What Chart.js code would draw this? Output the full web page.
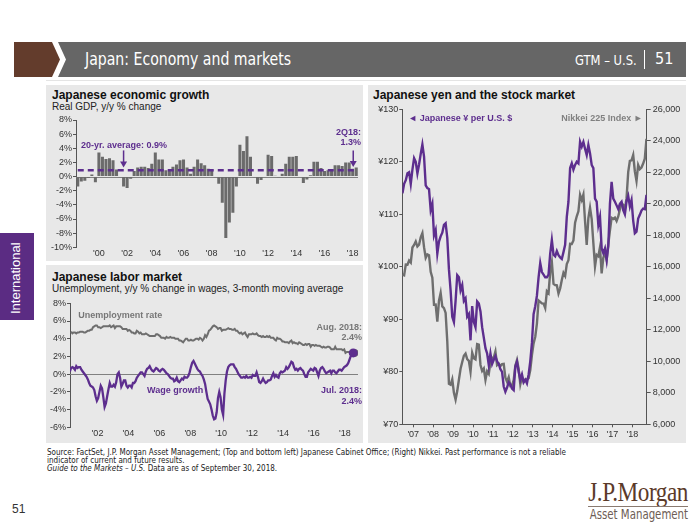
<!DOCTYPE html>
<html><head><meta charset="utf-8">
<script src="https://cdn.jsdelivr.net/npm/chart.js@4.4.1/dist/chart.umd.min.js"></script>
<style>
body{margin:0;width:700px;height:525px;position:relative;background:#fff;font-family:"Liberation Sans",Arial,sans-serif;overflow:hidden}
.abs{position:absolute;white-space:nowrap}
.panel{position:absolute;background:#e8e8e8}
.ttl{position:absolute;font-weight:bold;font-size:12px;color:#111;white-space:nowrap;line-height:14px}
.sub{position:absolute;font-size:10px;color:#222;white-space:nowrap;line-height:12px}
.narrow{font-family:"Liberation Sans Narrow","DejaVu Sans Condensed","Liberation Sans",sans-serif}
canvas{position:absolute}
.foot{position:absolute;left:47px;font-size:8px;line-height:8px;color:#222;white-space:nowrap}
</style></head><body>

<!-- header -->
<div class="abs" style="left:14px;top:42px;width:46px;height:35px;background:#633c2c;clip-path:polygon(0 0,38px 0,46px 50%,38px 100%,0 100%)"></div>
<div class="abs" style="left:58px;top:42px;width:628px;height:35px;background:#666;clip-path:polygon(0 0,100% 0,100% 100%,0 100%,8px 50%)"></div>
<div class="abs narrow" style="left:85px;top:48px;font-size:18px;line-height:22px;color:#fff;transform:scaleX(0.87);transform-origin:left center">Japan: Economy and markets</div>
<div class="abs narrow" style="left:575px;top:52px;font-size:13.5px;line-height:16px;color:#fff;transform:scaleX(0.95);transform-origin:left center">GTM – U.S.</div>
<div class="abs" style="left:644px;top:50px;width:1px;height:19px;background:#fff"></div>
<div class="abs narrow" style="left:655px;top:49px;font-size:16px;line-height:20px;color:#fff">51</div>
<div class="abs" style="left:46px;top:80px;width:640px;height:1px;background:#e4e4e4"></div>

<!-- side tab -->
<div class="abs" style="left:0;top:233px;width:34px;height:87px;background:#5b2c83"></div>
<div class="abs" style="left:7px;top:240px;height:76px;width:18px;writing-mode:vertical-rl;transform:rotate(180deg);color:#fff;font-size:13px;line-height:18px;text-align:center">International</div>

<!-- panels -->
<div class="panel" style="left:46px;top:85px;width:317px;height:176px"></div>
<div class="panel" style="left:46px;top:265px;width:317px;height:178px"></div>
<div class="panel" style="left:368px;top:85px;width:318px;height:358px"></div>

<div class="ttl" style="left:52px;top:88px">Japanese economic growth</div>
<div class="sub" style="left:52px;top:101px">Real GDP, y/y % change</div>
<div class="ttl" style="left:52px;top:270px">Japanese labor market</div>
<div class="sub" style="left:52px;top:283px">Unemployment, y/y % change in wages, 3-month moving average</div>
<div class="ttl" style="left:373px;top:88px">Japanese yen and the stock market</div>

<canvas id="c1" width="317" height="150" style="left:46px;top:112px"></canvas>
<canvas id="c2" width="317" height="148" style="left:46px;top:295px"></canvas>
<canvas id="c3" width="321" height="343" style="left:366px;top:100px"></canvas>

<!-- footer -->
<div class="foot narrow" style="top:449px">Source: FactSet, J.P. Morgan Asset Management; (Top and bottom left) Japanese Cabinet Office; (Right) Nikkei. Past performance is not a reliable</div>
<div class="foot narrow" style="top:457px">indicator of current and future results.</div>
<div class="foot narrow" style="top:465px"><i>Guide to the Markets – U.S.</i> Data are as of September 30, 2018.</div>
<div class="abs" style="left:12px;top:502px;font-size:12px;line-height:14px;color:#333">51</div>
<div class="abs" style="right:12px;top:478px;font-family:'Liberation Serif','DejaVu Serif',serif;font-size:27px;line-height:28px;color:#5b3a29;letter-spacing:-0.5px;transform:scaleX(0.86);transform-origin:right center">J.P.Morgan</div>
<div class="abs" style="left:588px;top:506px;width:100px;height:1px;background:#8a7a70"></div>
<div class="abs narrow" style="right:12px;top:507px;font-size:13.5px;line-height:15px;color:#6d5d55;transform:scaleX(0.84);transform-origin:right center">Asset Management</div>

<script>
// ---------------- DATA ----------------
// Real GDP y/y %, quarterly 3Q1998 - 2Q2018
const gdpValues = [
 -1.4,-0.7,-0.6,-0.2, 0.3,-0.8, 3.4, 2.8, 2.5, 2.6,
  2.3, 1.0,-0.1,-1.4,-1.6,-0.3, 0.8, 1.3, 1.4, 1.4,
  1.2, 1.8, 3.4, 2.4, 2.4, 0.9, 1.0, 1.4, 1.7, 2.3,
  2.4, 1.3, 0.4, 1.4, 2.4, 1.9, 1.6, 1.1, 0.9,-0.1,
 -1.0,-3.7,-8.7,-6.5,-5.1,-1.4, 4.5, 3.6, 5.7, 2.8,
 -0.1,-1.0,-0.5, 0.0, 3.1, 2.9, 0.1,-0.1, 0.4, 1.8,
  2.8, 2.8, 2.9, 0.0,-0.9,-0.4, 0.2, 2.1, 2.1, 1.2,
  0.8, 0.9, 1.0, 1.6, 1.6, 1.5, 2.0, 2.0, 1.1, 1.3];
const gdpAverage = 0.9;
const gdpLabels = gdpValues.map((v,i)=>{const q=(2+i)%4+1; const y=1998+Math.floor((2+i)/4); return q+'Q'+String(y).slice(2);});
const gdpTickLabels = ["'00","'02","'04","'06","'08","'10","'12","'14","'16","'18"];

// Unemployment rate %, monthly Apr 2000 - Aug 2018
const unempStart = [2000, 4];
const unempValues = [
 4.8,4.6,4.7,4.7,4.6,4.7,4.7,4.8,4.8,
 4.8,4.7,4.7,4.8,4.9,4.9,5.0,5.0,5.3,5.4,5.5,5.5,
 5.3,5.3,5.2,5.3,5.4,5.4,5.4,5.4,5.4,5.5,5.3,5.4,
 5.5,5.2,5.4,5.4,5.4,5.4,5.3,5.1,5.1,5.1,5.1,4.9,
 5.0,4.9,4.7,4.7,4.6,4.6,4.9,4.8,4.6,4.7,4.5,4.5,
 4.5,4.6,4.5,4.4,4.3,4.3,4.3,4.3,4.3,4.5,4.5,4.4,
 4.3,4.1,4.1,4.1,4.0,4.2,4.1,4.1,4.2,4.1,4.1,4.1,
 4.0,4.0,4.0,3.8,3.8,3.7,3.6,3.8,4.0,4.0,3.8,3.8,
 3.9,3.8,3.8,3.9,4.0,4.0,3.9,4.1,4.0,3.8,4.0,4.4,
 4.2,4.5,4.9,5.0,5.2,5.4,5.5,5.4,5.3,5.1,5.2,5.2,
 4.9,5.0,5.0,5.0,5.1,5.2,5.1,5.1,5.0,5.0,5.1,4.9,
 4.9,4.7,4.6,4.7,4.5,4.6,4.7,4.4,4.2,4.5,4.5,4.5,
 4.6,4.5,4.5,4.6,4.4,4.3,4.3,4.2,4.3,4.2,4.2,4.3,
 4.2,4.3,4.1,4.1,4.1,3.9,3.8,4.1,4.0,4.0,3.9,3.7,
 3.7,3.6,3.6,3.6,3.5,3.7,3.8,3.5,3.6,3.5,3.5,3.4,
 3.6,3.5,3.4,3.3,3.3,3.4,3.3,3.4,3.4,3.1,3.3,3.3,
 3.2,3.3,3.2,3.2,3.2,3.1,3.0,3.1,3.0,3.0,3.1,3.1,
 3.0,2.8,2.8,2.8,3.1,2.8,2.8,2.8,2.8,2.8,2.7,2.8,
 2.4,2.5,2.5,2.5,2.2,2.4,2.5,2.4];

// Wage growth y/y %, 3-month moving average, monthly Mar 2000 - Jul 2018
const wageStart = [2000, 3];
const wageValues = [
 0.3,0.7,0.8,0.7,0.5,0.9,0.7,0.8,0.8,0.5,0.3,0.1,
 -0.1,-0.3,-0.6,-1.0,-1.3,-1.4,-1.5,-1.8,-2.5,-3.0,-2.7,-2.0,
 -1.3,-1.6,-2.6,-3.7,-3.3,-2.5,-1.7,-1.0,-1.4,-1.4,-1.2,-1.4,
 -0.9,0.0,0.2,-0.4,-1.4,-1.1,-0.7,-0.7,-1.3,-1.5,-1.3,-1.3,
 -1.5,-1.0,-1.0,-0.8,-0.4,-0.2,0.0,0.2,0.2,0.0,-0.2,0.3,
 0.6,0.7,0.9,0.6,0.4,0.3,0.5,0.7,0.6,0.4,0.3,0.5,
 0.6,0.5,0.3,0.1,0.0,-0.2,-0.4,-0.5,-0.5,-0.8,-0.7,-0.4,
 -0.8,-0.9,-0.7,-0.5,-0.6,-0.3,-0.4,-0.4,-0.2,0.2,0.8,1.3,
 1.5,1.2,0.9,0.6,0.4,0.3,0.0,-0.2,-0.6,-1.1,-2.0,-2.8,
 -3.1,-3.4,-4.0,-4.7,-5.1,-5.0,-4.3,-2.7,-2.0,-2.6,-4.0,-4.6,
 -2.2,-0.7,0.3,0.8,1.0,1.1,1.1,1.1,0.8,0.6,0.3,0.0,
 -0.2,-0.4,-0.4,-0.3,-0.4,-0.2,-0.4,-0.4,-0.3,-0.4,-0.1,-0.2,
 -0.2,0.2,-0.3,-0.9,-1.0,-0.8,-0.5,-0.8,-1.0,-0.9,-0.7,-0.7,
 -0.6,-0.2,0.1,-0.3,-0.1,-0.3,-0.4,0.1,0.3,0.2,0.3,0.4,
 0.8,0.6,0.8,1.1,1.4,1.3,0.8,0.5,0.6,0.4,0.6,0.7,
 0.5,0.4,0.0,-0.3,-0.3,0.2,0.4,0.6,0.5,0.4,0.7,0.6,
 0.2,-0.2,0.4,0.7,0.8,0.6,0.3,0.1,0.2,0.3,0.4,0.1,
 0.4,0.4,0.2,0.1,0.3,0.5,0.5,0.4,0.6,0.8,0.9,1.0,
 1.2,1.6,2.0,2.3,2.4];
const laborTickYears = [2002,2004,2006,2008,2010,2012,2014,2016,2018];

// Yen per USD and Nikkei 225, monthly Jun 2006 - Sep 2018
const marketStart = [2006, 6];
const yenValues = [
 114.0,115.8,116.5,117.8,118.0,115.8,118.5,
 120.7,120.0,117.8,119.5,121.5,123.3,121.0,115.5,115.0,114.8,110.8,112.0,
 106.0,107.0,102.5,104.8,105.8,106.5,108.0,108.3,105.5,99.5,95.5,90.5,
 89.5,93.5,98.4,98.0,95.5,96.5,93.5,94.0,90.5,91.0,86.0,92.5,
 89.5,88.5,93.4,93.0,91.5,88.5,86.5,84.5,83.5,81.3,83.5,81.5,
 82.3,83.0,82.0,81.5,80.5,80.0,77.2,76.2,77.0,78.0,77.6,76.8,
 76.5,81.0,81.9,80.0,78.5,79.5,78.0,78.5,77.8,79.5,82.0,85.5,
 91.0,92.5,94.5,98.0,100.7,99.0,98.5,98.0,98.0,98.5,102.5,105.1,
 102.3,102.0,103.0,102.2,101.8,101.5,102.8,104.2,109.5,112.4,118.8,119.7,
 118.5,119.4,120.0,119.7,123.8,122.9,123.8,122.5,121.3,123.2,121.6,119.4,
 118.8,113.0,112.4,108.0,109.5,103.5,102.6,103.5,101.3,104.0,112.0,116.2,
 113.0,112.4,111.7,111.0,112.0,112.4,110.8,110.0,112.5,113.5,111.5,112.7,
 108.8,106.4,106.7,109.2,109.9,110.7,111.1,111.0,113.7];
const nikkeiValues = [
 15505,15457,16140,16127,16399,16274,17225,
 17383,17604,17288,17400,17875,18138,17248,16569,16785,16737,15680,15307,
 13592,13603,12525,13849,14338,13481,13376,13072,11259,8576,8512,8859,
 7994,7568,8109,8828,9522,9958,10356,10492,10133,10034,9345,10546,
 10198,10126,11089,11057,9768,9382,9537,8824,9369,9202,9937,10228,
 10237,10624,9755,9849,9693,9816,9833,8955,8700,8988,8434,8455,
 8802,9723,10083,9520,8542,9006,8695,8839,8870,8928,9446,10395,
 11138,11559,12397,13860,13774,13677,13668,13388,14455,14327,15662,16291,
 14914,14841,14828,14304,14632,15162,15621,15425,16174,16414,17460,17451,
 17674,18798,19207,19520,20563,20236,20585,18890,17388,19083,19747,19034,
 17518,16027,16759,16666,17235,15576,16569,16887,16450,17425,18308,19114,
 19041,19119,18909,19197,19651,20033,19925,19646,20356,22012,22725,22765,
 23098,22068,21454,22468,22202,22305,22554,22865,24120];
const marketTickYears = [2007,2008,2009,2010,2011,2012,2013,2014,2015,2016,2017,2018];

// ---------------- HELPERS ----------------
const PURPLE = '#5d2e8e', GRAY = '#6e6e6e', AXIS = '#555';
const tickFont = {family:'Liberation Sans', size:9};
const monthX = (start, i) => start[0] + (start[1] - 1 + i + 0.5) / 12;
const series = (start, vals) => vals.map((v,i)=>({x: monthX(start,i), y: v}));
const yrLabel = v => "'" + String(v).slice(2);
const lastDot = (arr, r) => ctx => ctx.dataIndex === arr.length - 1 ? r : 0;

function txt(ctx, s, x, y, color, align){
  ctx.save();
  ctx.font = 'bold 9px "Liberation Sans", Arial, sans-serif';
  ctx.fillStyle = color; ctx.textAlign = align || 'left'; ctx.textBaseline = 'middle';
  ctx.fillText(s, x, y); ctx.restore();
}
function arrow(ctx, x, y1, y2, color){
  ctx.save(); ctx.strokeStyle = color; ctx.fillStyle = color; ctx.lineWidth = 1.5;
  ctx.beginPath(); ctx.moveTo(x, y1); ctx.lineTo(x, y2 - 5); ctx.stroke();
  ctx.beginPath(); ctx.moveTo(x - 3.5, y2 - 6); ctx.lineTo(x + 3.5, y2 - 6); ctx.lineTo(x, y2); ctx.closePath(); ctx.fill();
  ctx.restore();
}
const zeroLine = {
  id:'zeroLine',
  beforeDatasetsDraw(chart){
    const {ctx, chartArea:a, scales:{y}} = chart; const py = Math.round(y.getPixelForValue(0)) + 0.5;
    ctx.save(); ctx.strokeStyle = '#808080'; ctx.lineWidth = 1;
    ctx.beginPath(); ctx.moveTo(a.left, py); ctx.lineTo(a.right, py); ctx.stroke(); ctx.restore();
  }
};
const yAxisBase = (w) => ({
  grid:{drawOnChartArea:false, tickLength:3, color:AXIS},
  border:{display:true, color:AXIS, width:1},
  ticks:{font:tickFont, color:'#333', padding:1},
  afterFit: s => { s.width = w; }
});
const common = {animation:false, responsive:false, events:[],
  plugins:{legend:{display:false}, tooltip:{enabled:false}}};

// ---------------- CHART 1: GDP ----------------
new Chart(document.getElementById('c1'), {
  data:{labels: gdpLabels, datasets:[
    {type:'line', data: gdpLabels.map(()=>gdpAverage), borderColor:PURPLE, borderWidth:2.5, borderDash:[6,4], pointRadius:0, order:0},
    {type:'bar', data: gdpValues, backgroundColor:'#6b6b6b', barPercentage:0.86, categoryPercentage:1, order:1}
  ]},
  options:Object.assign({}, common, {
    layout:{padding:{top:8, right:5, left:0, bottom:0}},
    scales:{
      x:{type:'category', offset:true, grid:{display:false, drawTicks:false}, border:{display:false},
         ticks:{autoSkip:false, maxRotation:0, minRotation:0, padding:1, font:tickFont, color:'#333',
           callback:(v,i)=> (i>=6 && (i-6)%8===0) ? gdpTickLabels[(i-6)/8] : ''},
         afterFit: s => { s.height = 14.7; }},
      y:Object.assign(yAxisBase(30), {min:-10, max:8,
         ticks:{font:tickFont, color:'#333', padding:1, stepSize:2, callback:v=>v+'%'}})
    }
  }),
  plugins:[zeroLine, {id:'ann1', afterDatasetsDraw(chart){
    const {ctx, chartArea:a, scales:{x,y}} = chart;
    txt(ctx, '20-yr. average: 0.9%', a.left + 5, y.getPixelForValue(4.4), PURPLE);
    arrow(ctx, x.getPixelForValue(13), y.getPixelForValue(3.7), y.getPixelForValue(1.3), PURPLE);
    txt(ctx, '2Q18:', a.right + 3, y.getPixelForValue(6.2), PURPLE, 'right');
    txt(ctx, '1.3%', a.right + 3, y.getPixelForValue(4.8), PURPLE, 'right');
    arrow(ctx, x.getPixelForValue(79) - 3, y.getPixelForValue(3.7), y.getPixelForValue(1.35), PURPLE);
  }}]
});

// ---------------- CHART 2: Labor ----------------
new Chart(document.getElementById('c2'), {
  type:'line',
  data:{datasets:[
    {data: series(wageStart, wageValues), borderColor:PURPLE, borderWidth:2.3, tension:0,
     pointRadius:lastDot(wageValues, 4.5), pointBackgroundColor:PURPLE, pointBorderWidth:0},
    {data: series(unempStart, unempValues), borderColor:GRAY, borderWidth:2, tension:0,
     pointRadius:lastDot(unempValues, 4), pointBackgroundColor:GRAY, pointBorderWidth:0}
  ]},
  options:Object.assign({}, common, {
    layout:{padding:{top:8.3, right:5, left:0, bottom:0}},
    scales:{
      x:{type:'linear', min:2000.22, max:2018.85, grid:{display:false, drawTicks:false}, border:{display:false},
         afterBuildTicks: s => { s.ticks = laborTickYears.map(v=>({value:v})); },
         ticks:{maxRotation:0, padding:1, font:tickFont, color:'#333', callback:yrLabel},
         afterFit: s => { s.height = 15.7; }},
      y:Object.assign(yAxisBase(24), {min:-6, max:8,
         ticks:{font:tickFont, color:'#333', padding:1, stepSize:2, callback:v=>v+'%'}})
    }
  }),
  plugins:[zeroLine, {id:'ann2', afterDatasetsDraw(chart){
    const {ctx, chartArea:a, scales:{x,y}} = chart;
    txt(ctx, 'Unemployment rate', x.getPixelForValue(2000.75), y.getPixelForValue(6.6), '#777');
    txt(ctx, 'Aug. 2018:', a.right + 4, y.getPixelForValue(5.3), '#777', 'right');
    txt(ctx, '2.4%', a.right + 4, y.getPixelForValue(4.15), '#777', 'right');
    txt(ctx, 'Wage growth', x.getPixelForValue(2005.2), y.getPixelForValue(-1.8), PURPLE);
    txt(ctx, 'Jul. 2018:', a.right + 4, y.getPixelForValue(-1.9), PURPLE, 'right');
    txt(ctx, '2.4%', a.right + 4, y.getPixelForValue(-3.05), PURPLE, 'right');
  }}]
});

// ---------------- CHART 3: Yen & Nikkei ----------------
new Chart(document.getElementById('c3'), {
  type:'line',
  data:{datasets:[
    {data: series(marketStart, yenValues), yAxisID:'yYen', borderColor:PURPLE, borderWidth:2.4, tension:0, pointRadius:0},
    {data: series(marketStart, nikkeiValues), yAxisID:'yNik', borderColor:GRAY, borderWidth:2.4, tension:0, pointRadius:0}
  ]},
  options:Object.assign({}, common, {
    layout:{padding:{top:9.3, right:0, left:0, bottom:0}},
    scales:{
      x:{type:'linear', min:2006.45, max:2018.72,
         grid:{drawOnChartArea:false, tickLength:3, color:AXIS}, border:{display:true, color:AXIS},
         afterBuildTicks: s => { s.ticks = marketTickYears.map(v=>({value:v})); },
         ticks:{maxRotation:0, padding:2, font:tickFont, color:'#333', callback:yrLabel},
         afterFit: s => { s.height = 18.7; }},
      yYen:Object.assign(yAxisBase(36.3), {position:'left', min:70, max:130,
         ticks:{font:tickFont, color:'#333', padding:1, stepSize:10, callback:v=>'¥'+v}}),
      yNik:Object.assign(yAxisBase(40.3), {position:'right', min:6000, max:26000,
         grid:{drawOnChartArea:false, tickLength:4, color:AXIS},
         ticks:{font:tickFont, color:'#333', padding:2, stepSize:2000, callback:v=>v.toLocaleString('en-US')}})
    }
  }),
  plugins:[{id:'ann3', afterDatasetsDraw(chart){
    const {ctx, chartArea:a} = chart;
    txt(ctx, '◄ Japanese ¥ per U.S. $', a.left + 6, a.top + 9, PURPLE);
    txt(ctx, 'Nikkei 225 Index ►', a.right - 4, a.top + 9, '#808080', 'right');
  }}]
});
</script>
</body></html>
